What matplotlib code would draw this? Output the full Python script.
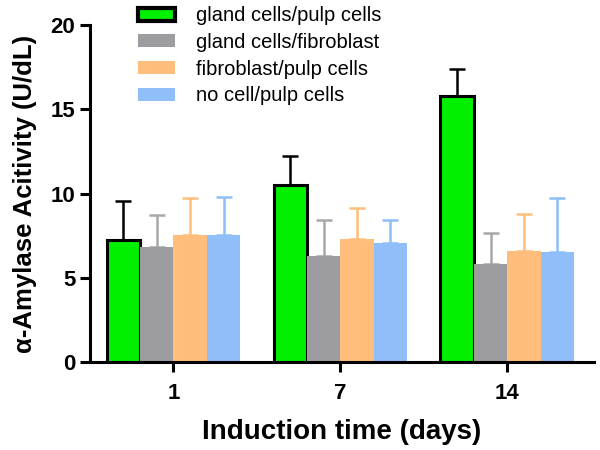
import numpy as np
import matplotlib
matplotlib.use('Agg')
import matplotlib.pyplot as plt

plt.rcParams['font.family'] = ['Liberation Sans', 'DejaVu Sans']

# Data
days = ['1', '7', '14']
groups = ['gland cells/pulp cells', 'gland cells/fibroblast',
          'fibroblast/pulp cells', 'no cell/pulp cells']
means = {
    'gland cells/pulp cells': [7.26, 10.5, 15.8],
    'gland cells/fibroblast': [6.8, 6.3, 5.83],
    'fibroblast/pulp cells': [7.56, 7.3, 6.57],
    'no cell/pulp cells': [7.52, 7.04, 6.55],
}
errors = {
    'gland cells/pulp cells': [2.32, 1.7, 1.6],
    'gland cells/fibroblast': [1.95, 2.1, 1.84],
    'fibroblast/pulp cells': [2.18, 1.86, 2.23],
    'no cell/pulp cells': [2.3, 1.41, 3.2],
}
colors = ['#00F000', '#9D9DA1', '#FFBE7B', '#8FBEF8']
err_colors = ['black', '#A8A8AC', '#FFBE7B', '#8FBEF8']

fig = plt.figure(figsize=(6, 4.5), dpi=100)
ax = fig.add_axes([0.15, 0.196, 0.84, 0.748])

x = np.arange(len(days))
width = 0.2
for i, g in enumerate(groups):
    pos = x + (i - 1.5) * width
    if i == 0:
        ax.bar(pos, means[g], width, color=colors[i], edgecolor='black',
               linewidth=2.2, label=g, zorder=2)
    else:
        ax.bar(pos, means[g], width, color=colors[i], linewidth=0,
               label=g, zorder=2)
    ax.errorbar(pos, means[g], yerr=[np.zeros(3), errors[g]], fmt='none',
                ecolor=err_colors[i], elinewidth=1.8, capsize=6,
                capthick=1.8, zorder=1)

ax.set_xlim(-0.5, 2.52)
ax.set_ylim(0, 20)
ax.set_yticks([0, 5, 10, 15, 20])
ax.set_xticks(x)
ax.set_xticklabels(days)
for s in ['top', 'right']:
    ax.spines[s].set_visible(False)
for s in ['left', 'bottom']:
    ax.spines[s].set_linewidth(2.2)
ax.tick_params(width=2.2, length=7, labelsize=16)
ax.tick_params(axis='x', pad=8)
for lab in ax.get_xticklabels() + ax.get_yticklabels():
    lab.set_fontweight('bold')

ax.set_ylabel('α-Amylase Acitivity (U/dL)', fontsize=18.5, fontweight='bold',
              labelpad=10)
ax.set_xlabel('Induction time (days)', fontsize=20, fontweight='bold',
              labelpad=11)

leg = ax.legend(loc='upper left', bbox_to_anchor=(0.06, 1.11), frameon=False,
                fontsize=14.5, handlelength=1.8, handleheight=0.6,
                labelspacing=0.38, handletextpad=1.05)
leg.legend_handles[0].set_edgecolor('black')
leg.legend_handles[0].set_linewidth(3)

fig.savefig('out.png', dpi=100)
